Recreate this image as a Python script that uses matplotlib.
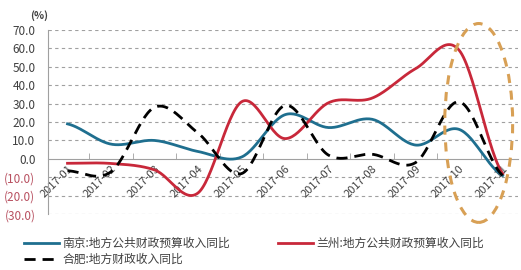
import numpy as np
import matplotlib
matplotlib.use("Agg")
import matplotlib.pyplot as plt
from matplotlib.patches import Ellipse
from matplotlib.ticker import FixedLocator

plt.rcParams["font.family"] = ["Noto Sans CJK SC", "DejaVu Sans"]

months = ["2017-01", "2017-02", "2017-03", "2017-04", "2017-05", "2017-06",
          "2017-07", "2017-08", "2017-09", "2017-10", "2017-11"]
nanjing = [19.0, 8.0, 10.0, 4.0, 1.0, 24.0, 17.0, 21.5, 7.5, 16.0, -9.0]
lanzhou = [-2.4, -2.5, -6.0, -18.5, 31.0, 11.0, 30.5, 33.0, 49.0, 59.0, -8.0]
hefei = [-6.5, -7.0, 28.0, 14.0, -8.0, 29.0, 2.0, 2.5, -2.0, 31.0, -9.0]
yticks = [-30, -20, -10, 0, 10, 20, 30, 40, 50, 60, 70]

labels = {
    "nanjing": "南京:地方公共财政预算收入同比",
    "lanzhou": "兰州:地方公共财政预算收入同比",
    "hefei": "合肥:地方财政收入同比",
}


def smooth(y, n=30):
    # Catmull-Rom through the points, like Excel's smoothed line
    y = np.asarray(y, float)
    p = np.concatenate([[y[0]], y, [y[-1]]])
    xs, ys = [], []
    for i in range(len(y) - 1):
        t = np.linspace(0, 1, n, endpoint=False)
        p0, p1, p2, p3 = p[i], p[i + 1], p[i + 2], p[i + 3]
        seg = 0.5 * (2 * p1 + (-p0 + p2) * t + (2 * p0 - 5 * p1 + 4 * p2 - p3) * t ** 2
                     + (-p0 + 3 * p1 - 3 * p2 + p3) * t ** 3)
        xs.append(i + t)
        ys.append(seg)
    xs.append([len(y) - 1])
    ys.append([y[-1]])
    return np.concatenate(xs), np.concatenate(ys)


fig = plt.figure(figsize=(5.21, 2.70), dpi=100)
ax = fig.add_axes([0.092, 0.207, 0.902, 0.682])

for yy in yticks:
    if yy != 0:
        ax.axhline(yy, color="#a0a0a0", linestyle=(0, (3, 3)), linewidth=0.8, zorder=1)

x, y = smooth(nanjing)
l_nj, = ax.plot(x, y, color="#1f6f8f", linewidth=2.0, label=labels["nanjing"], zorder=3)
x, y = smooth(lanzhou)
l_lz, = ax.plot(x, y, color="#c8283a", linewidth=2.0, label=labels["lanzhou"], zorder=3)
x, y = smooth(hefei)
l_hf, = ax.plot(x, y, color="black", linewidth=2.0, linestyle=(0, (4, 2.5)),
                label=labels["hefei"], zorder=4)

ell = Ellipse((9.45, 19.5), 1.56, 108, angle=0, fill=False, edgecolor="#d8a055",
              linewidth=2.2, linestyle=(0, (3, 2.5)), clip_on=False, zorder=5)
ax.add_patch(ell)

ax.set_xlim(-0.45, 10.35)
ax.set_ylim(-30, 70)

ax.spines["top"].set_visible(False)
ax.spines["right"].set_visible(False)
ax.spines["bottom"].set_position(("data", 0))
ax.spines["bottom"].set_color("#a0a0a0")
ax.spines["left"].set_color("#a0a0a0")

ax.set_xticks(range(len(months)))
ax.set_xticklabels(months, rotation=45, ha="right", va="top",
                   rotation_mode="anchor", fontsize=8, color="#404040")
ax.tick_params(axis="x", length=0, pad=3)
ax.xaxis.set_minor_locator(FixedLocator(np.arange(0.5, len(months) - 1, 1.0)))
ax.tick_params(axis="x", which="minor", direction="in", length=4, color="#a0a0a0")

ax.set_yticks(yticks)
ax.set_yticklabels([f"({abs(v):.1f})" if v < 0 else f"{v:.1f}" for v in yticks],
                   fontsize=8.5)
for lab, v in zip(ax.get_yticklabels(), yticks):
    lab.set_color("#b85060" if v < 0 else "#404040")
ax.tick_params(axis="y", length=0, pad=9)

fig.text(0.058, 0.944, "(%)", fontsize=7.5, fontweight="bold", color="#404040",
         ha="left", va="center")

# column-major fill: gives 南京 | 兰州 on row one, 合肥 below
fig.legend([l_nj, l_hf, l_lz], [labels["nanjing"], labels["hefei"], labels["lanzhou"]],
           loc="lower left", bbox_to_anchor=(0.025, -0.025), ncol=2, frameon=False,
           fontsize=8.5, handlelength=3.0, columnspacing=4.0, labelspacing=0.25,
           handletextpad=0.3, labelcolor="#404040")

fig.savefig("out.png", dpi=100)
